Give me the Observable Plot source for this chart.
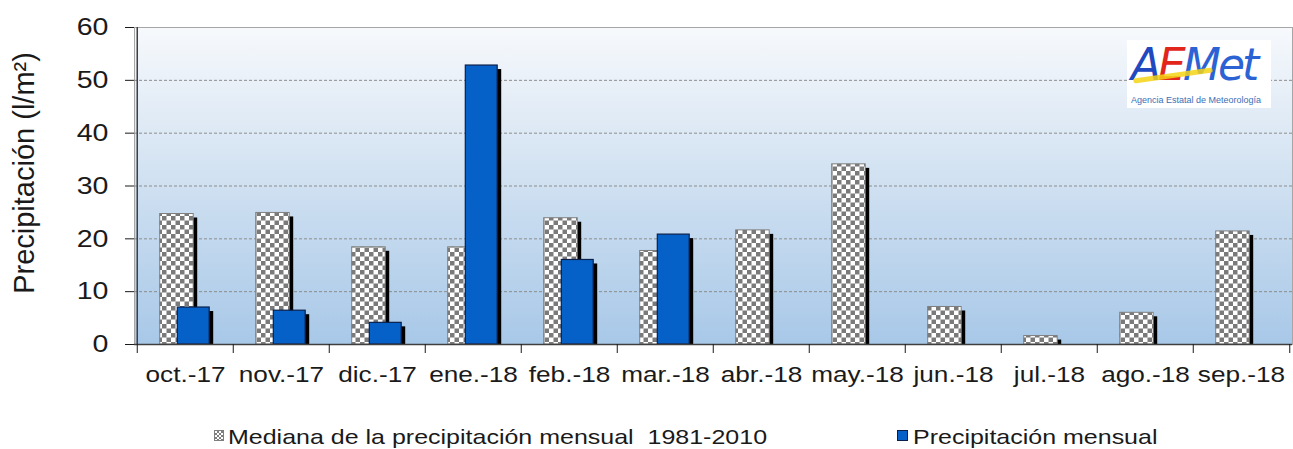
<!DOCTYPE html>
<html><head><meta charset="utf-8">
<script src="https://cdn.jsdelivr.net/npm/d3@7"></script>
<script src="https://cdn.jsdelivr.net/npm/@observablehq/plot@0.6"></script>
<style>
body{margin:0;background:#fff;font-family:"Liberation Sans",Arial,sans-serif;color:#1a1a1a;}
#wrap{position:relative;width:1293px;height:449px;overflow:hidden;}
#wrap svg{display:block;}
.leg{position:absolute;font-size:21px;line-height:24px;transform:scaleX(1.19);transform-origin:0 50%;white-space:pre;color:#1a1a1a;}
.sw{position:absolute;box-sizing:border-box;}
#logo{position:absolute;left:1127px;top:40px;width:144px;height:68px;background:#fff;}
#logo .big{position:absolute;left:4px;top:0px;font-family:"DejaVu Sans",sans-serif;font-style:italic;font-size:44px;line-height:50px;letter-spacing:-3px;}
#logo .small{position:absolute;left:4px;top:55px;font-size:9px;color:#3b6fb6;white-space:nowrap;}
</style></head><body><div id="wrap"></div>
<script>
const months = ["oct.-17","nov.-17","dic.-17","ene.-18","feb.-18","mar.-18","abr.-18","may.-18","jun.-18","jul.-18","ago.-18","sep.-18"];
const mediana = [24.7, 24.9, 18.4, 18.4, 23.9, 17.7, 21.6, 34.1, 7.1, 1.6, 6.0, 21.4];
const precipitacion = [7.0, 6.4, 4.1, 52.8, 16.0, 20.8, null, null, null, null, null, null];
const yTicks = [0, 10, 20, 30, 40, 50, 60];
const seriesNames = ["Mediana de la precipitación mensual  1981-2010", "Precipitación mensual"];
const yLabel = "Precipitación (l/m²)";

const rows = months.map((m, i) => ({mes: m, mediana: mediana[i], precip: precipitacion[i]}));
const rowsP = rows.filter(d => d.precip != null);
const W = 1293, ML = 134, MR = 1;
const bw = (W - ML - MR) / months.length;
const med = {insetLeft: 22.7, insetRight: bw - 56.7};
const pre = {insetLeft: 40.3, insetRight: bw - 72.7};

const chart = Plot.plot({
  width: W, height: 400, marginLeft: ML, marginRight: MR, marginTop: 27, marginBottom: 56,
  style: {fontFamily: "Liberation Sans, Arial, sans-serif", background: "transparent", color: "#1a1a1a"},
  x: {domain: months, padding: 0, axis: null},
  y: {domain: [0, 60], axis: null},
  marks: [
    Plot.frame({fill: "url(#bgGrad)", stroke: "#a6a6a6"}),
    Plot.ruleY(yTicks.filter(t => t > 0 && t < 60), {stroke: "#8c8c8c", strokeDasharray: "3,2", strokeWidth: 1}),
    Plot.barY(rows, {x: "mes", y: "mediana", fill: "#000", dx: 4, dy: 4, insetBottom: 4, ...med}),
    Plot.barY(rows, {x: "mes", y: "mediana", fill: "url(#checker)", stroke: "#7f7f7f", strokeWidth: 1, ...med}),
    Plot.barY(rowsP, {x: "mes", y: "precip", fill: "#000", dx: 4, dy: 4, insetBottom: 4, ...pre}),
    Plot.barY(rowsP, {x: "mes", y: "precip", fill: "#0561c8", stroke: "#0a1f4a", strokeWidth: 1.2, ...pre}),
    Plot.ruleY([0], {stroke: "#404040", strokeWidth: 1.5}),
    Plot.ruleX([months[0]], {dx: -bw / 2, stroke: "#404040", strokeWidth: 1.5}),
    Plot.axisY(yTicks, {anchor: "left", tickSize: 9, tickPadding: 17, fontSize: 24, label: null}),
    Plot.axisX({anchor: "bottom", tickSize: 0, tickPadding: 22, fontSize: 22, label: null}),
    Plot.axisX({anchor: "bottom", tickSize: 9, tickFormat: () => "", label: null, dx: -bw / 2}),
    Plot.axisX([months[months.length - 1]], {anchor: "bottom", tickSize: 9, tickFormat: () => "", label: null, dx: bw / 2}),
    Plot.text([yLabel], {frameAnchor: "left", dx: -101, dy: -13, rotate: -90, textAnchor: "middle", lineAnchor: "bottom", fontSize: 29, fill: "#1a1a1a"})
  ]
});

const ns = "http://www.w3.org/2000/svg";
const defs = document.createElementNS(ns, "defs");
defs.innerHTML = `<linearGradient id="bgGrad" x1="0" y1="0" x2="0" y2="1">
<stop offset="0" stop-color="#f7f9fc"/><stop offset="0.5" stop-color="#cfe0f1"/><stop offset="1" stop-color="#a8c8e8"/></linearGradient>
<pattern id="checker" width="9" height="9" patternUnits="userSpaceOnUse">
<rect width="9" height="9" fill="#ffffff"/><rect width="4.5" height="4.5" fill="#7a7a7a"/><rect x="4.5" y="4.5" width="4.5" height="4.5" fill="#7a7a7a"/></pattern>`;
chart.insertBefore(defs, chart.firstChild);

chart.querySelectorAll("text").forEach(t => {
  const tr = t.getAttribute("transform") || "";
  if (tr.includes("rotate")) return;
  const x = parseFloat(t.getAttribute("x")) || 0;
  t.setAttribute("transform", tr + ` translate(${x},0) scale(1.19,1) translate(${-x},0)`);
});

const wrap = document.getElementById("wrap");
wrap.appendChild(chart);

// logo
const logo = document.createElement("div");
logo.id = "logo";
logo.innerHTML = `<div class="big"><span style="color:#2248c0">A</span><span style="color:#e2261c">E</span><span style="color:#2b62d4">Met</span></div>
<div style="position:absolute;left:6px;top:33px;width:80px;height:5px;background:#f5d315;border-radius:3px;transform:rotate(-8deg);opacity:.85"></div>
<div class="small">Agencia Estatal de Meteorología</div>`;
wrap.appendChild(logo);

// legend
const sw1 = document.createElement("div");
sw1.className = "sw";
Object.assign(sw1.style, {left: "214px", top: "430px", width: "10px", height: "11px", border: "1px solid #7f7f7f",
  background: "repeating-conic-gradient(#7f7f7f 0 25%, #fff 0 50%) 0 0/4px 4px"});
wrap.appendChild(sw1);
const t1 = document.createElement("div");
t1.className = "leg"; t1.style.left = "228px"; t1.style.top = "425px"; t1.textContent = seriesNames[0];
wrap.appendChild(t1);
const sw2 = document.createElement("div");
sw2.className = "sw";
Object.assign(sw2.style, {left: "897px", top: "430px", width: "11px", height: "11px", border: "1px solid #0a1f4a", background: "#0561c8"});
wrap.appendChild(sw2);
const t2 = document.createElement("div");
t2.className = "leg"; t2.style.left = "913px"; t2.style.top = "425px"; t2.textContent = seriesNames[1];
wrap.appendChild(t2);
</script></body></html>
